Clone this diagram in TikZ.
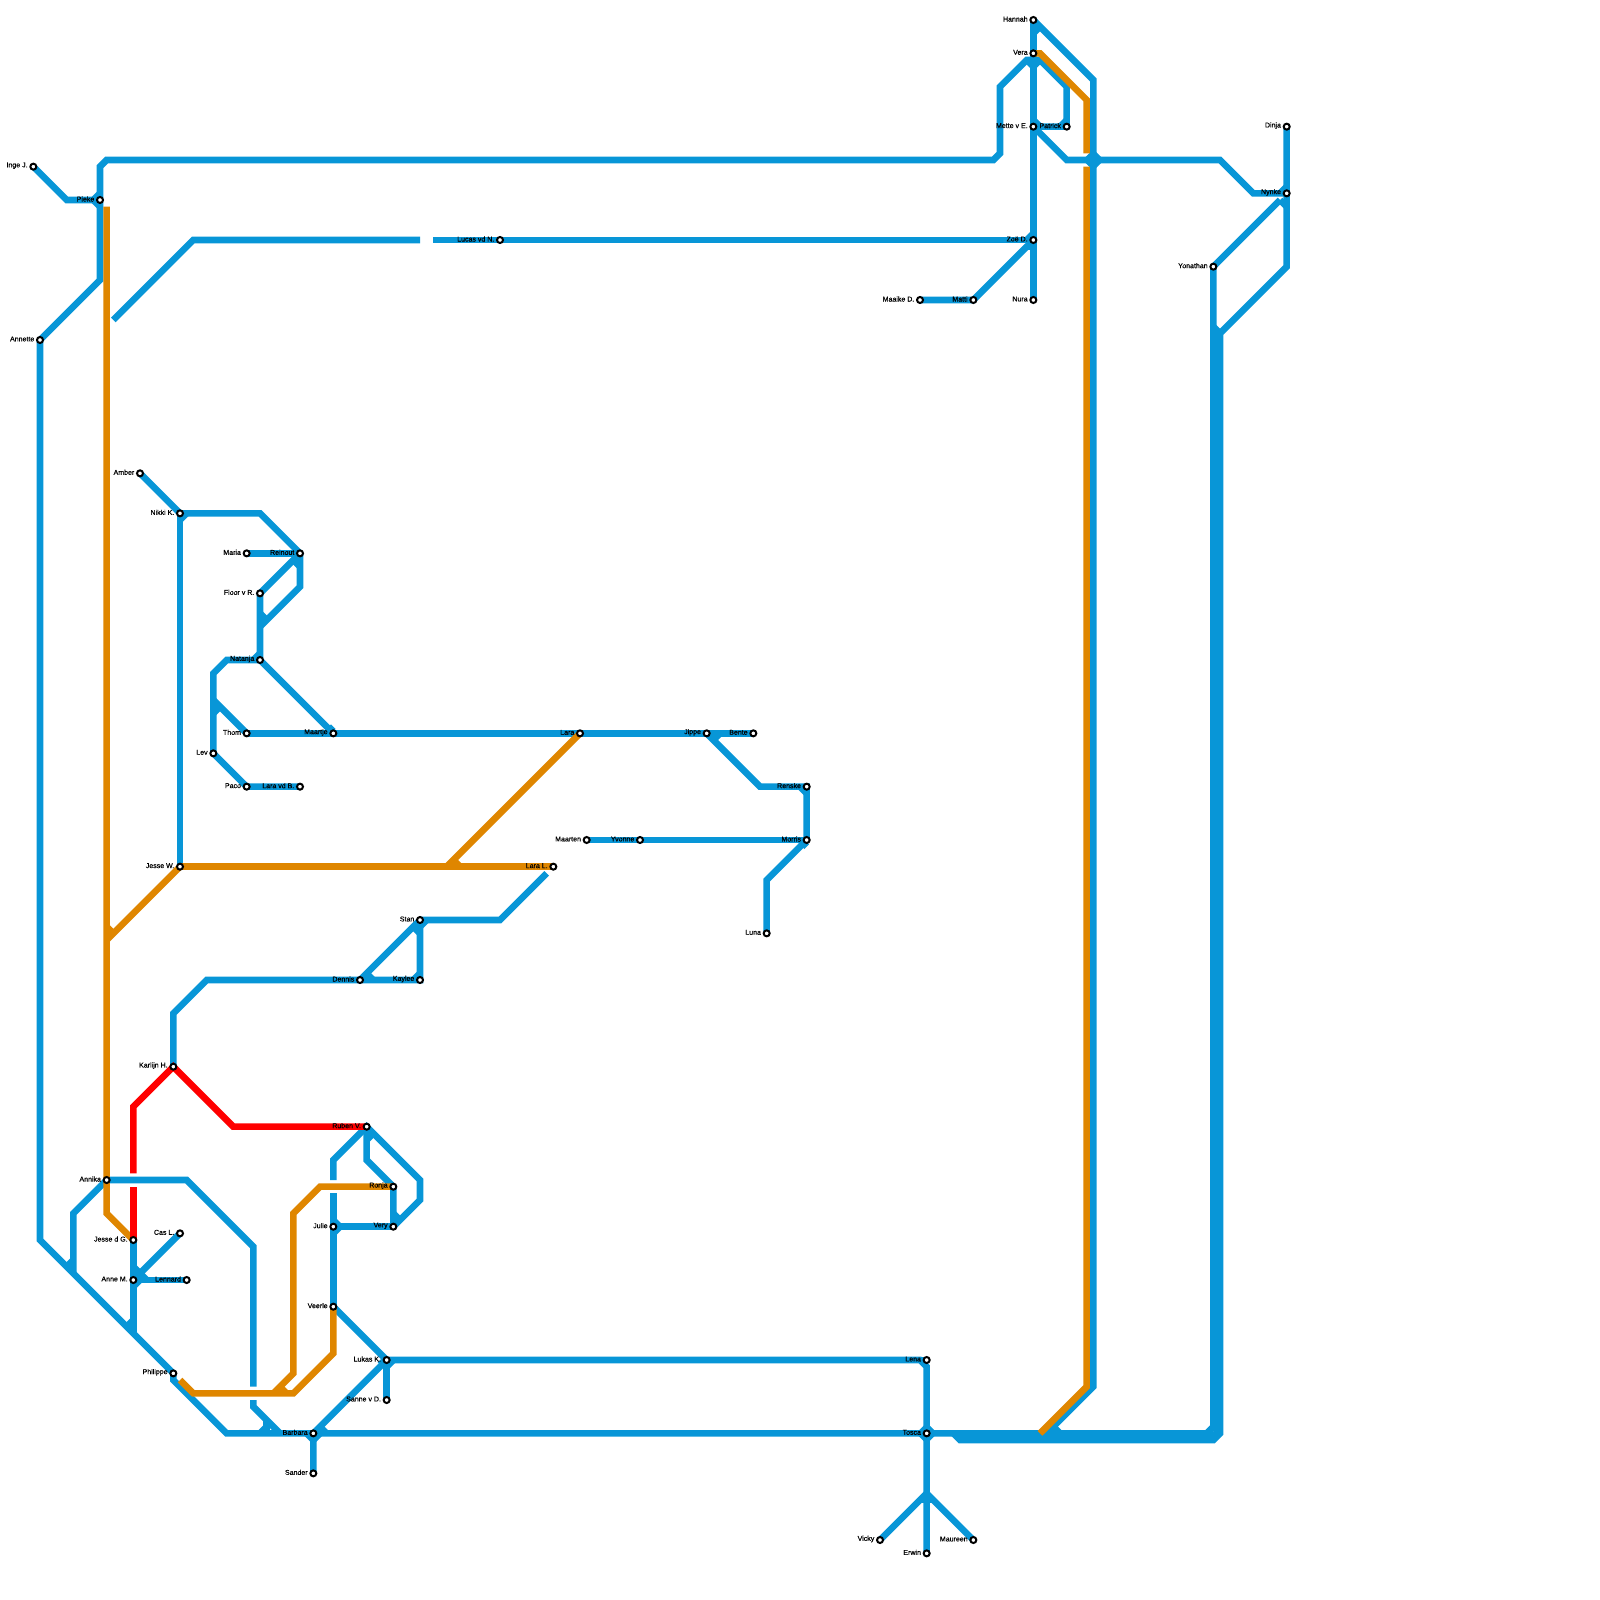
\documentclass[tikz,border=0pt]{standalone}
\usepackage{fontspec}
\setmainfont{Liberation Sans}
\newfontfamily\stnfont[FakeBold=0.5]{Liberation Sans}
\usetikzlibrary{backgrounds}
\definecolor{lineblue}{HTML}{0896D7}
\definecolor{lineorange}{HTML}{DF8600}
\definecolor{linered}{HTML}{FF0000}
\begin{document}
\begin{tikzpicture}[x=0.66667mm,y=-0.66667mm,line join=miter,line cap=round,
  blueline/.style={draw=lineblue,line width=0.66mm},
  bluestub/.style={draw=lineblue,line width=0.66mm,line cap=butt},
  bluebox/.style={draw=lineblue,fill=lineblue,line width=0.1mm},
  orangeline/.style={draw=lineorange,line width=0.66mm},
  orangestub/.style={draw=lineorange,line width=0.66mm,line cap=butt},
  redline/.style={draw=linered,line width=0.66mm},
  stn/.style={circle,draw=black,fill=white,line width=0.2mm,minimum size=0.6mm,inner sep=0pt},
  stnlabel/.style={font=\stnfont\fontsize{2}{2.4}\selectfont,inner sep=0pt,text=black,yshift=0.1mm}]
\useasboundingbox (0,0) rectangle (240,240);
\foreach \n/\x/\y/\t in {hannah/155/3/Hannah,vera/155/8/Vera,mette/155/19/Mette v E.,patrick/160/19/Patrick,
  zoe/155/36/Zoë D.,nura/155/45/Nura,matti/146/45/Matti,maaike/138/45/Maaike D.,dinja/193/19/Dinja,
  nynke/193/29/Nynke,yonathan/182/40/Yonathan,inge/5/25/Inge J.,pieke/15/30/Pieke,annette/6/51/Annette,
  lucas/75/36/Lucas vd N.,amber/21/71/Amber,nikki/27/77/Nikki K.,maria/37/83/Maria,reinout/45/83/Reinout,
  floor/39/89/Floor v R.,natanja/39/99/Natanja,thom/37/110/Thom,maartje/50/110/Maartje,lev/32/113/Lev,
  paco/37/118/Paco,laravdb/45/118/Lara vd B.,lara/87/110/Lara,jippe/106/110/Jippe,bente/113/110/Bente,
  renske/121/118/Renske,morris/121/126/Morris,yvonne/96/126/Yvonne,maarten/88/126/Maarten,luna/115/140/Luna,
  jessew/27/130/Jesse W.,laral/83/130/Lara L.,stan/63/138/Stan,dennis/54/147/Dennis,kaylee/63/147/Kaylee,
  karlijn/26/160/Karlijn H.,ruben/55/169/Ruben V.,annika/16/177/Annika,jessed/20/186/Jesse d G.,
  cas/27/185/Cas L.,anne/20/192/Anne M.,lennard/28/192/Lennard,philippe/26/206/Philippe,barbara/47/215/Barbara,
  sander/47/221/Sander,sanne/58/210/Sanne v D.,lukas/58/204/Lukas K.,veerle/50/196/Veerle,julie/50/184/Julie,
  very/59/184/Very,ronja/59/178/Ronja,lena/139/204/Lena,tosca/139/215/Tosca,erwin/139/233/Erwin,
  maureen/146/231/Maureen,vicky/132/231/Vicky}
  {\node[stn,label={[stnlabel,label distance=0.1mm]left:\t}] (\n) at (\x,\y) {};}
\begin{pgfonlayer}{background}
\draw[blueline] (hannah.center)--(164,12)--(164,208)--(157,215);
\draw[bluestub] (hannah.center)--(nura.center);
\draw[bluestub] (156,4)--(155,5);
\draw[bluestub] (pieke.center)--(10,30)--(inge.center);
\draw[bluestub] (15,29)--(14,30)--(15,31);
\draw[bluestub] (annette.center)--(15,42)--(15,25)--(16,24)--(149,24)--(150,23)--(150,13)--(154,9)--(156,9)--(160,13)--(patrick.center);
\draw[bluestub] (154,9)--(155,10)--(156,9);
\draw[bluestub] (155,18)--(156,19)--(patrick.center);
\draw[bluestub] (160,18)--(159,19);
\draw[bluestub] (mette.center)--(160,24)--(183,24)--(188,29)--(nynke.center);
\draw[bluebox] (164,22.5)--(165.5,24)--(164,25.5)--(162.5,24)--cycle;
\draw[blueline] (17,48)--(29,36)--(63,36);
\draw[blueline] (65,36)--(lucas.center)--(zoe.center);
\draw[bluestub] (maaike.center)--(matti.center)--(154,37)--(155,37);
\draw[bluestub] (155,35)--(154,36)--(155,37);
\draw[bluestub] (dinja.center)--(193,40)--(183,50)--(183,215)--(182,216)--(144,216)--(143,215);
\draw[bluestub] (182.5,50)--(182.5,215)--(181.5,215.5)--(144,215.5);
\draw[bluestub] (192,30)--(193,31);
\draw[bluestub] (193,28)--(192,29);
\draw[bluestub] (yonathan.center)--(192,30);
\draw[bluestub] (yonathan.center)--(182,214)--(181,215)--(tosca.center);
\draw[bluestub] (182,49)--(183,50);
\draw[bluestub] (158,214)--(159,215);
\draw[bluestub] (annette.center)--(6,186)--(philippe.center)--(26,207)--(34,215)--(barbara.center)--(tosca.center);
\draw[bluestub] (annika.center)--(11,182)--(11,191);
\draw[bluestub] (11,189)--(10,190);
\draw[blueline] (annika.center)--(28,177)--(38,187)--(38,208);
\draw[blueline] (38,210)--(38,211)--(42,215);
\draw[bluestub] (40,213)--(40,215);
\draw[bluestub] (40,214)--(39,215);
\draw[bluestub] (jessed.center)--(20,200);
\draw[bluestub] (20,198)--(19,199);
\draw[bluestub] (cas.center)--(anne.center);
\draw[bluestub] (anne.center)--(lennard.center);
\draw[bluestub] (20,190)--(22,192);
\draw[bluestub] (20,193)--(21,192);
\draw[bluestub] (sander.center)--(barbara.center)--(lukas.center);
\draw[bluestub] (lukas.center)--(sanne.center);
\draw[bluestub] (48,214)--(49,215);
\draw[bluestub] (46,215)--(47,216)--(48,215);
\draw[bluestub] (57,204)--(58,205)--(59,204);
\draw[bluestub] (lukas.center)--(138,204)--(139,205)--(erwin.center);
\draw[bluestub] (lena.center)--(138,204);
\draw[bluebox] (139,213.5)--(140.5,215)--(139,216.5)--(137.5,215)--cycle;
\draw[bluestub] (vicky.center)--(139,224)--(maureen.center);
\draw[bluestub] (138,225)--(140,225);
\draw[bluestub] (veerle.center)--(lukas.center);
\draw[blueline] (veerle.center)--(50,179);
\draw[bluestub] (julie.center)--(very.center);
\draw[bluestub] (50,183)--(51,184)--(50,185);
\draw[blueline] (50,177)--(50,174)--(ruben.center)--(63,177)--(63,180)--(very.center);
\draw[bluestub] (very.center)--(ronja.center)--(55,174)--(ruben.center);
\draw[bluestub] (55,171)--(56,170);
\draw[bluestub] (59,182)--(60,183);
\draw[bluestub] (amber.center)--(nikki.center)--(39,77)--(reinout.center)--(45,88)--(39,94);
\draw[bluestub] (nikki.center)--(jessew.center);
\draw[bluestub] (27,78)--(28,77);
\draw[bluestub] (maria.center)--(reinout.center);
\draw[bluestub] (44,84)--(45,85);
\draw[bluestub] (reinout.center)--(floor.center)--(natanja.center)--(maartje.center);
\draw[bluestub] (39,92)--(40,93);
\draw[bluestub] (natanja.center)--(34,99)--(32,101)--(lev.center)--(paco.center)--(laravdb.center);
\draw[bluestub] (38,99)--(39,98);
\draw[bluestub] (thom.center)--(32,105);
\draw[bluestub] (32,107)--(33,106);
\draw[bluestub] (thom.center)--(bente.center);
\draw[bluestub] (49,110)--(50,109);
\draw[bluestub] (jippe.center)--(114,118)--(renske.center)--(morris.center)--(115,132)--(luna.center);
\draw[bluestub] (108,110)--(107,111);
\draw[bluestub] (120,118)--(121,119);
\draw[bluestub] (120,126)--(121,127);
\draw[bluestub] (maarten.center)--(yvonne.center)--(morris.center);
\draw[bluestub] (karlijn.center)--(26,152)--(31,147)--(dennis.center)--(kaylee.center)--(stan.center);
\draw[bluestub] (stan.center)--(dennis.center);
\draw[bluestub] (55,146)--(56,147);
\draw[bluestub] (62,147)--(63,146);
\draw[bluestub] (62,139)--(63,140);
\draw[bluestub] (64,138)--(63,139);
\draw[blueline] (stan.center)--(75,138)--(82,131);
\draw[orangeline] (vera.center)--(156,8)--(163,15)--(163,23);
\draw[orangeline] (163,25)--(163,208)--(156,215);
\draw[orangeline] (16,31)--(annika.center)--(16,182)--(jessed.center);
\draw[orangestub] (jessew.center)--(16,141);
\draw[orangestub] (16,139)--(17,140);
\draw[orangestub] (jessew.center)--(laral.center);
\draw[orangestub] (lara.center)--(67,130);
\draw[orangestub] (68,129)--(69,130);
\draw[orangeline] (27,207)--(29,209)--(44,209)--(50,203)--(veerle.center);
\draw[orangestub] (41,209)--(44,206)--(44,182)--(48,178)--(ronja.center);
\draw[orangestub] (42,208)--(43,209);
\draw[redline] (jessed.center)--(20,178);
\draw[redline] (20,176)--(20,166)--(karlijn.center)--(35,169)--(ruben.center);
\end{pgfonlayer}
\end{tikzpicture}
\end{document}
